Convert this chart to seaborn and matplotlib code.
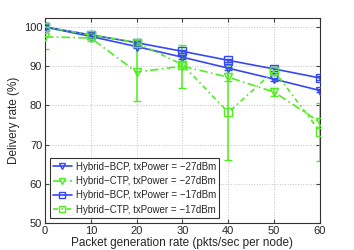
import numpy as np
import pandas as pd
import matplotlib
matplotlib.use("Agg")
import matplotlib.pyplot as plt
import seaborn as sns

# ---------- data ----------
rates = [0, 10, 20, 30, 40, 50, 60]

bcp_27 = [100.0, 97.6, 95.0, 92.3, 89.5, 86.7, 83.8]
bcp_27_err = [0.4, 0.4, 0.4, 0.4, 0.4, 0.4, 0.4]
ctp_27 = [97.5, 97.2, 88.5, 90.0, 87.2, 83.4, 75.7]
ctp_27_err = [3.2, 0.8, 7.5, 5.5, 1.0, 1.0, 1.2]
bcp_17 = [100.0, 98.0, 96.0, 93.8, 91.5, 89.3, 87.0]
bcp_17_err = [0.4, 0.4, 0.4, 0.4, 0.4, 0.4, 0.4]
ctp_17 = [100.0, 98.0, 96.0, 90.4, 78.2, 88.8, 73.3]
ctp_17_err = [1.0, 0.8, 0.7, 1.0, 12.2, 1.0, 7.4]

labels = ["Hybrid\u2212BCP, txPower = \u221227dBm",
          "Hybrid\u2212CTP, txPower = \u221227dBm",
          "Hybrid\u2212BCP, txPower = \u221217dBm",
          "Hybrid\u2212CTP, txPower = \u221217dBm"]

BLUE = "#3548f2"
GREEN = "#4fee1e"

sns.set_style("white")
plt.rcParams["font.family"] = ["Liberation Sans", "DejaVu Sans"]

fig = plt.figure(figsize=(3.54, 2.5), dpi=100)
ax = fig.add_axes([0.127, 0.108, 0.777, 0.820])

series = [
    (bcp_27, bcp_27_err, BLUE, "v", "-", labels[0]),
    (ctp_27, ctp_27_err, GREEN, "v", (0, (5, 2, 1, 2)), labels[1]),
    (bcp_17, bcp_17_err, BLUE, "s", "-", labels[2]),
    (ctp_17, ctp_17_err, GREEN, "s", (0, (3, 2, 1, 2)), labels[3]),
]

for vals, err, col, mk, ls, lab in series:
    ax.errorbar(rates, vals, yerr=err, fmt="none", ecolor=col, elinewidth=1.1,
                capsize=3, capthick=1.0, zorder=2)
    sns.lineplot(x=rates, y=vals, ax=ax, color=col, marker=mk, markersize=5.5,
                 markerfacecolor="none", markeredgecolor=col, markeredgewidth=1.0,
                 linestyle=ls, linewidth=1.2, label=lab, zorder=3)

ax.set_xlim(0, 60)
ax.set_ylim(50, 102.3)
ax.set_xticks(range(0, 61, 10))
ax.set_yticks(range(50, 101, 10))
ax.grid(True, linestyle=":", color="#c4c4c4", linewidth=0.7)
ax.tick_params(direction="in", length=3, labelsize=8, top=True, right=True,
               bottom=True, left=True, pad=2, color="#444444")
for s in ax.spines.values():
    s.set_color("#333333")
    s.set_linewidth(0.8)

ax.set_xlabel("Packet generation rate (pkts/sec per node)", fontsize=8.5, labelpad=1)
ax.set_ylabel("Delivery rate (%)", fontsize=8.5, labelpad=3)

leg = ax.legend(loc="lower left", fontsize=7, frameon=True, fancybox=False,
                edgecolor="black", borderpad=0.35, labelspacing=0.45,
                handlelength=1.9, handletextpad=0.4, borderaxespad=0.5,
                markerscale=0.7)
leg.get_frame().set_linewidth(0.8)

fig.savefig("out.png", dpi=100)
